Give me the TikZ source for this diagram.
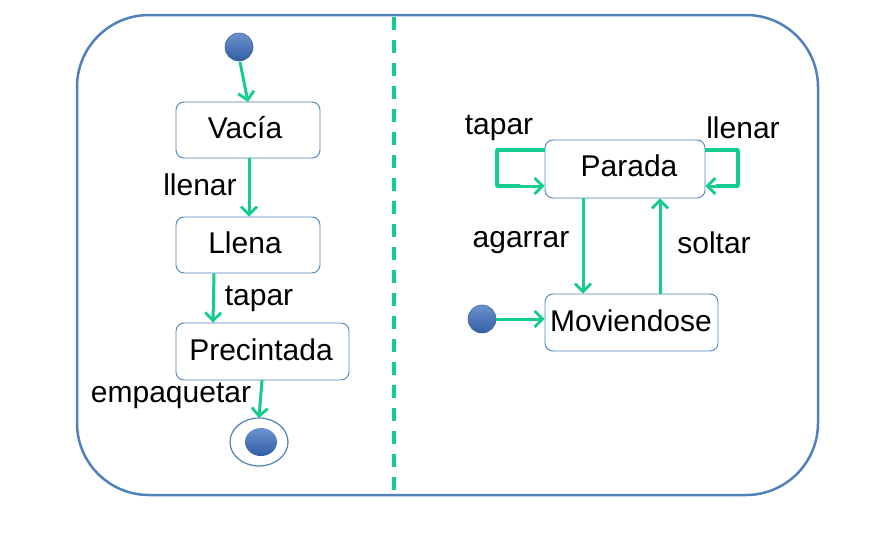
\documentclass[tikz,border=0pt]{standalone}
\usepackage{fontspec}
\setmainfont{Liberation Sans}
\usetikzlibrary{arrows.meta,shapes.geometric}
\definecolor{frameblue}{RGB}{79,129,189}
\definecolor{arrgreen}{RGB}{20,204,140}
\definecolor{dotblue}{RGB}{58,110,190}
\tikzset{
  statebox/.style={draw=frameblue, line width=0.9pt, fill=white, rounded corners=8pt, inner sep=0pt},
  lbl/.style={font=\fontsize{30}{32}\selectfont, inner sep=0pt},
  trans/.style={draw=arrgreen, line width=3pt, -{Straight Barb[length=8pt,width=16pt,line width=2.8pt]}},
  loopline/.style={draw=arrgreen, line width=3.5pt, line join=round},
  startdot/.style={circle, minimum size=28pt, inner sep=0pt, draw=frameblue!80!black, line width=0.6pt, top color=dotblue!75!white, bottom color=dotblue!85!black},
}
\begin{document}
\begin{tikzpicture}[x=1pt,y=-1pt]
\useasboundingbox (0,0) rectangle (890,536);
% frame
\draw[frameblue, line width=2.5pt, rounded corners=72pt] (77,15) rectangle (818,495);
% divider
\coordinate (dtop) at (394,17);
\coordinate (dbot) at (394,493);
\draw[arrgreen, line width=4pt, dash pattern=on 13pt off 10pt] (dtop) -- (dbot);

% left side
\node[startdot] (s1) at (239,47) {};
\node[statebox, minimum width=144pt, minimum height=56pt] (vacia) at (248,130) {};
\node[lbl] at (245,128) {Vacía};
\node[statebox, minimum width=144pt, minimum height=56pt] (llena) at (248,245) {};
\node[lbl] at (245,243) {Llena};
\node[statebox, minimum width=173pt, minimum height=57pt] (prec) at (262.5,351.5) {};
\node[lbl] at (261,350) {Precintada};
\node[ellipse, draw=frameblue, line width=1.2pt, minimum width=58pt, minimum height=48pt, inner sep=0pt, fill=white] (fin) at (259,442) {};
\node[ellipse, minimum width=32pt, minimum height=28pt, inner sep=0pt, top color=dotblue!75!white, bottom color=dotblue!85!black] (finin) at (261,442) {};
\path[lbl] (200,185) node (l1) {llenar};
\path[lbl] (259,299) node (l2) {tapar};
\path[lbl] (171,396) node (l3) {empaquetar};

\coordinate (a1s) at (240,62);
\coordinate (a1e) at (248,102);
\draw[trans] (a1s) -- (a1e);
\draw[trans] (vacia.south -| 249,0) -- (llena.north -| 249,0);
\draw[trans] (llena.south -| 214,0) -- (prec.north -| 213,0);
\coordinate (a3s) at (262,380);
\coordinate (a3e) at (259,418);
\draw[trans] (a3s) -- (a3e);

% right side
\node[statebox, minimum width=160pt, minimum height=58pt] (parada) at (625,169) {};
\node[lbl] at (629,166) {Parada};
\node[statebox, minimum width=173pt, minimum height=57pt] (mov) at (631.5,322.5) {};
\node[lbl] at (631,321) {Moviendose};
\node[startdot] (s2) at (482,319) {};
\path[lbl] (499,128) node (l4) {tapar};
\path[lbl] (743,128) node (l5) {llenar};
\path[lbl] (521,243) node (l6) {agarrar};
\path[lbl] (714,243) node (l7) {soltar};

\draw[loopline] (parada.west |- 0,150) -- (497,150) -- (497,186) -- (520,186);
\draw[trans] (510,186) -- (parada.west |- 0,186);
\draw[loopline] (parada.east |- 0,150) -- (738,150) -- (738,186) -- (716,186);
\draw[trans] (725,186) -- (parada.east |- 0,186);
\draw[trans] (parada.south -| 583,0) -- (mov.north -| 583,0);
\draw[trans] (mov.north -| 660,0) -- (parada.south -| 660,0);
\draw[trans] (s2.east) -- (mov.west |- s2.east);
\end{tikzpicture}
\end{document}
